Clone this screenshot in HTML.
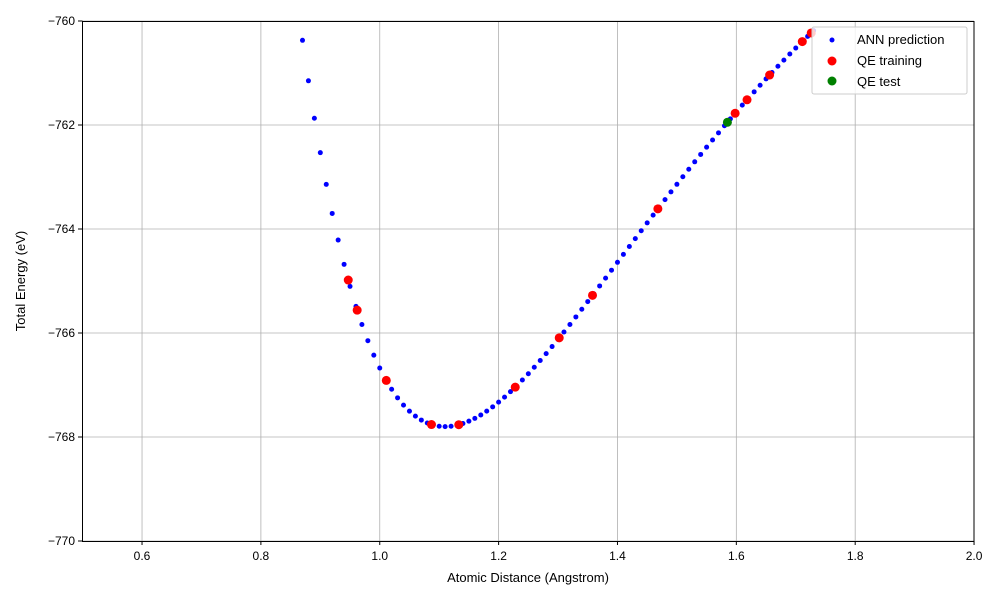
<!DOCTYPE html>
<html><head><meta charset="utf-8"><style>
body{margin:0;background:#fff;}
svg{display:block;font-family:"Liberation Sans","DejaVu Sans",sans-serif;}
</style></head><body>
<svg id="s" width="1000" height="600" xmlns="http://www.w3.org/2000/svg">
<rect width="1000" height="600" fill="#fff"/>
<g id="grid" stroke="#b0b0b0" stroke-width="0.8"></g>
<g id="data"></g>
<rect x="82.5" y="21.5" width="891.5" height="520" fill="none" stroke="#000" stroke-width="1"/>
<g id="ticks" font-size="12" fill="#000"></g>
<text x="528" y="582" font-size="13" text-anchor="middle">Atomic Distance (Angstrom)</text>
<text transform="translate(25,281) rotate(-90)" font-size="13" text-anchor="middle">Total Energy (eV)</text>
<g>
<rect x="812" y="27" width="155" height="67" fill="#fff" fill-opacity="0.8" stroke="#ccc" rx="2"/>
<circle cx="832" cy="40" r="2.5" fill="#0000ff"/>
<text x="857" y="44" font-size="13">ANN prediction</text>
<circle cx="832" cy="61" r="4.5" fill="#ff0000"/>
<text x="857" y="65" font-size="13">QE training</text>
<circle cx="832" cy="81" r="4.5" fill="#008000"/>
<text x="857" y="86" font-size="13">QE test</text>
</g>
</svg>
<script>
const NS="http://www.w3.org/2000/svg";
const X=x=>82.6+(x-0.5)*594.3, Y=y=>21+(-760-y)*52;
const E=r=>{const u=Math.exp(-2.35*(r-1.11));return -767.8+12.94*(1-u)*(1-u);};
const g=document.getElementById('grid'),t=document.getElementById('ticks'),d=document.getElementById('data');
function el(p,tag,a,txt){const e=document.createElementNS(NS,tag);for(const k in a)e.setAttribute(k,a[k]);if(txt!==undefined)e.textContent=txt;p.appendChild(e);return e;}
for(let i=0;i<=7;i++){const v=0.6+i*0.2,x=X(v);
 el(g,'line',{x1:x,x2:x,y1:21,y2:541});
 el(t,'line',{x1:x,x2:x,y1:541,y2:545,stroke:'#000'});
 el(t,'text',{x:x,y:560,'text-anchor':'middle'},v.toFixed(1));}
for(let i=0;i<=5;i++){const v=-760-2*i,y=Y(v);
 el(g,'line',{x1:82.5,x2:974,y1:y,y2:y});
 el(t,'line',{x1:78,x2:82.5,y1:y,y2:y,stroke:'#000'});
 el(t,'text',{x:75,y:y+4,'text-anchor':'end'},'\u2212'+(-v));}
for(let r=0.87;r<1.735;r+=0.01){const y=Y(E(r));if(y<21)continue;el(d,'circle',{cx:X(r),cy:y,r:2.5,fill:'#0000ff'});}
[0.947,0.962,1.011,1.087,1.133,1.228,1.302,1.358,1.468,1.598,1.618,1.656,1.711,1.726].forEach(r=>el(d,'circle',{cx:X(r),cy:Y(E(r)),r:4.5,fill:'#ff0000'}));
el(d,'circle',{cx:X(1.585),cy:Y(E(1.585)),r:4.5,fill:'#008000'});
</script>
</body></html>
